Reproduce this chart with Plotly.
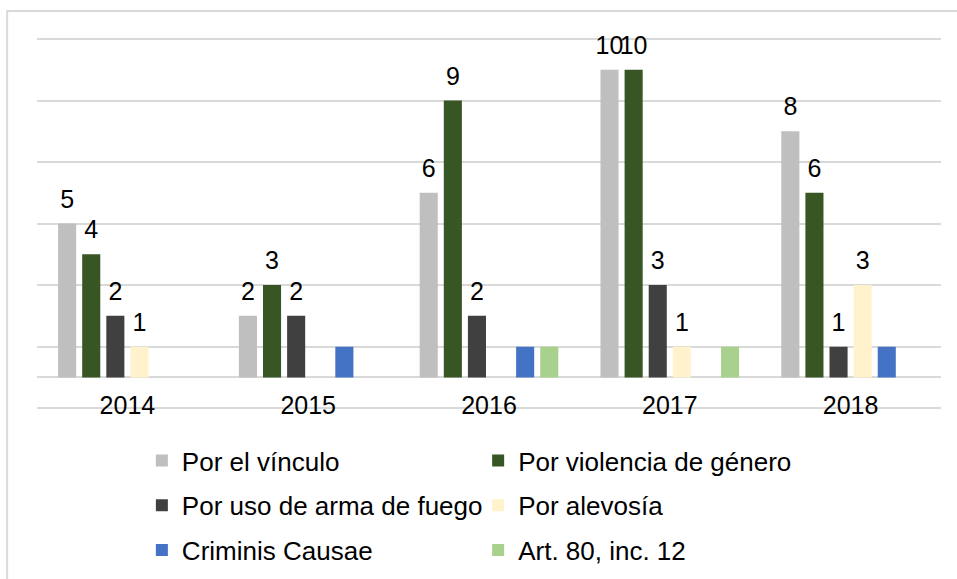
import plotly.graph_objects as go

# Categories and series values
years = ["2014", "2015", "2016", "2017", "2018"]

por_el_vinculo = [5, 2, 6, 10, 8]
por_violencia_genero = [4, 3, 9, 10, 6]
por_arma_fuego = [2, 2, 2, 3, 1]
por_alevosia = [1, 0, 0, 1, 3]
criminis_causae = [0, 1, 1, 0, 1]
art_80_inc_12 = [0, 0, 1, 1, 0]

series = [
    ("Por el vínculo", por_el_vinculo, "#BFBFBF", True),
    ("Por violencia de género", por_violencia_genero, "#375623", True),
    ("Por uso de arma de fuego", por_arma_fuego, "#404040", True),
    ("Por alevosía", por_alevosia, "#FFF2CC", True),
    ("Criminis Causae", criminis_causae, "#4472C4", False),
    ("Art. 80, inc. 12", art_80_inc_12, "#A9D18E", False),
]

FONT = "Liberation Sans, Arial, sans-serif"
GRID = "#D9D9D9"

fig = go.Figure()

for i, (name, vals, color, _) in enumerate(series):
    fig.add_trace(go.Bar(
        x=years, y=vals, name=name,
        marker=dict(color=color, line=dict(width=0)),
        offsetgroup=str(i),
        legend="legend" if i % 2 == 0 else "legend2",
        legendgroup=name,
        hoverinfo="x+y+name",
    ))

# value labels above the bars (only the first four series carry labels);
# the invisible marker sets the gap between bar top and label
for i, (name, vals, color, labelled) in enumerate(series):
    txt = [str(v) if (labelled and v) else "" for v in vals]
    fig.add_trace(go.Scatter(
        x=years, y=vals, mode="markers+text", text=txt,
        textposition="top center",
        textfont=dict(family=FONT, size=25, color="#000000"),
        marker=dict(size=14, opacity=0),
        offsetgroup=str(i),
        showlegend=False, hoverinfo="skip", cliponaxis=False,
    ))

fig.update_layout(
    width=957, height=579,
    margin=dict(l=37, r=16, t=36, b=0),
    paper_bgcolor="white", plot_bgcolor="white",
    barmode="group", bargap=0.2, bargroupgap=0.25,
    scattermode="group", scattergap=0.2,
    font=dict(family=FONT, size=25, color="#000000"),
    xaxis=dict(
        showgrid=False, showline=False, zeroline=False, ticks="",
        tickfont=dict(size=25, color="#000000"),
        ticklabelstandoff=-23,
    ),
    yaxis=dict(
        domain=[0.309, 1],
        range=[-1.1, 11.1], tickmode="array", tickvals=[-1, 1, 3, 5, 7, 9, 11],
        showticklabels=False, showgrid=True, gridcolor=GRID, gridwidth=1.5,
        zeroline=True, zerolinecolor=GRID, zerolinewidth=1.5,
        showline=False,
    ),
    legend=dict(
        orientation="v", x=0.116, xanchor="left", y=0.2615, yanchor="top",
        font=dict(size=26, color="#000000"), tracegroupgap=8,
        bgcolor="rgba(0,0,0,0)",
    ),
    legend2=dict(
        orientation="v", x=0.488, xanchor="left", y=0.2615, yanchor="top",
        font=dict(size=26, color="#000000"), tracegroupgap=8,
        bgcolor="rgba(0,0,0,0)",
    ),
    shapes=[dict(
        type="rect", xref="paper", yref="paper",
        x0=-0.033, x1=1.03, y0=-0.05, y1=1.046,
        line=dict(color=GRID, width=2), fillcolor="rgba(0,0,0,0)", layer="below",
    )],
)

fig.write_html("out.html")
